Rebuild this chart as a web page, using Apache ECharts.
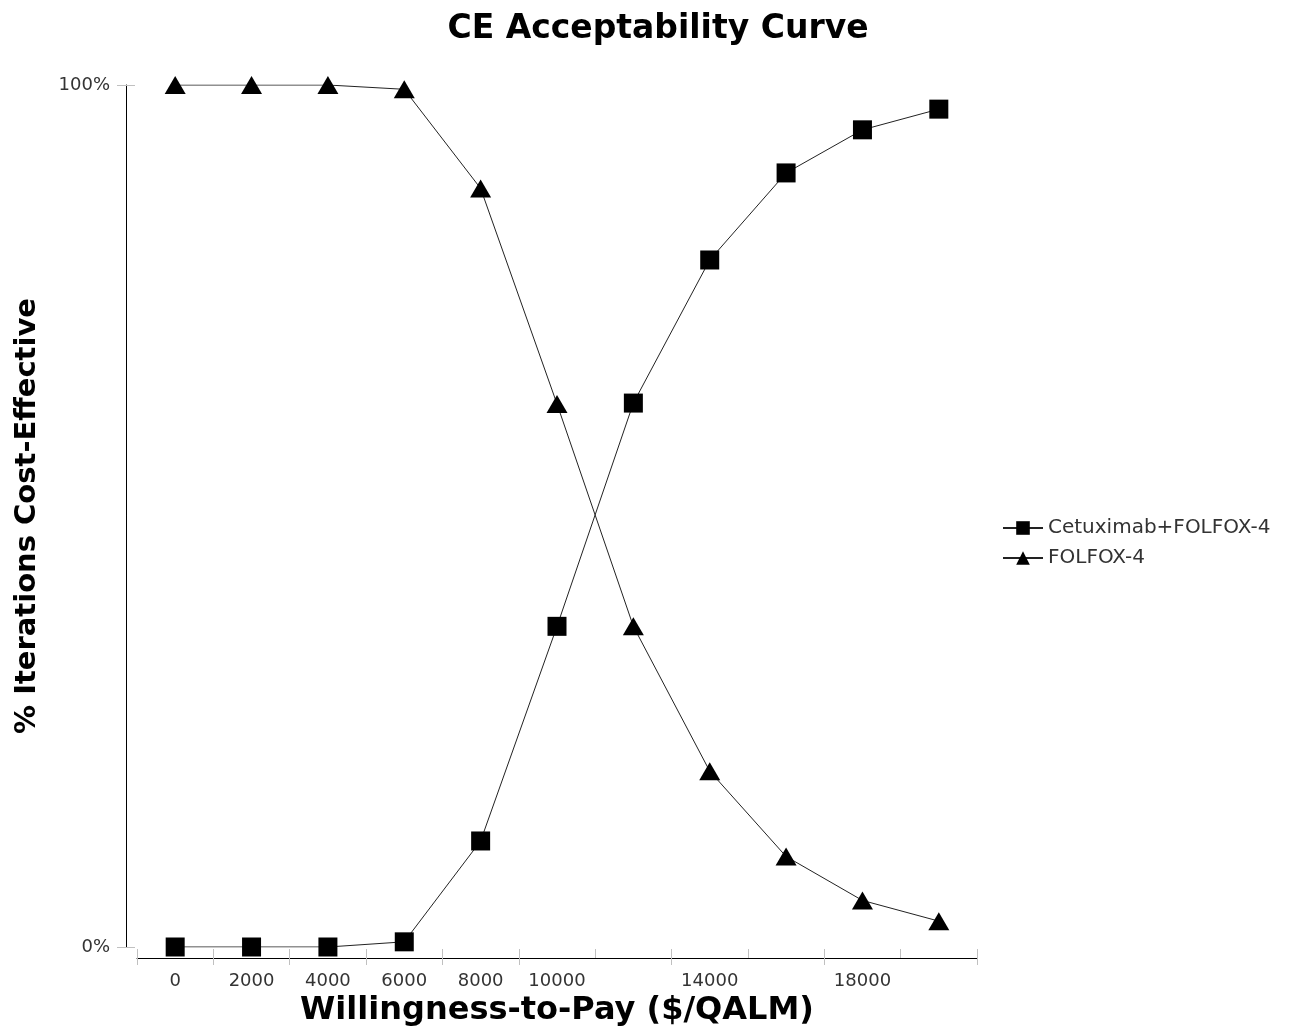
<!DOCTYPE html>
<html><head><meta charset="utf-8">
<script src="https://cdn.jsdelivr.net/npm/echarts@6/dist/echarts.min.js"></script>
<style>html,body{margin:0;padding:0;background:#fff}#c{width:1291px;height:1026px}</style>
</head><body><div id="c"></div>
<script>
const categories = ['0','2000','4000','6000','8000','10000','12000','14000','16000','18000','20000'];
const shownLabels = ['0','2000','4000','6000','8000','10000','14000','18000'];
const cetuximab = [0, 0, 0, 0.6, 12.3, 37.2, 63.1, 79.7, 89.8, 94.8, 97.2];
const folfox = [100, 100, 100, 99.5, 88.0, 63.0, 37.2, 20.4, 10.5, 5.4, 3.0];
const yTicks = [0, 100];

const chart = echarts.init(document.getElementById('c'));
const font = 'DejaVu Sans, Verdana, sans-serif';
const tickStyle = {color: '#c0c0c0', width: 1};
chart.setOption({
  animation: false,
  backgroundColor: '#fff',
  title: {text: 'CE Acceptability Curve', left: 653, top: 8, textAlign: 'center',
    textStyle: {fontFamily: font, fontSize: 33, fontWeight: 'bold', color: '#000'}},
  legend: {orient: 'vertical', left: 997, top: 513, itemWidth: 40, itemHeight: 17, itemGap: 10,
    textStyle: {fontFamily: font, fontSize: 20, color: '#333'},
    data: ['Cetuximab+FOLFOX-4', 'FOLFOX-4']},
  grid: {left: 137, top: 85, width: 840, height: 862, outerBoundsMode: 'none', containLabel: false},
  xAxis: [{
    type: 'category', data: categories, boundaryGap: true, offset: 11,
    name: 'Willingness-to-Pay ($/QALM)', nameLocation: 'middle', nameGap: 35,
    nameTextStyle: {fontFamily: font, fontSize: 32, fontWeight: 'bold', color: '#000'},
    axisLine: {onZero: false, lineStyle: {color: '#000', width: 1}},
    axisTick: {show: true, length: 7, lineStyle: tickStyle, alignWithLabel: false},
    axisLabel: {fontFamily: font, fontSize: 18, color: '#333', margin: 14,
      interval: (i, v) => shownLabels.includes(v)},
    splitLine: {show: false}
  }, {
    type: 'category', data: categories, boundaryGap: true, position: 'bottom', offset: 11,
    axisLine: {show: false, onZero: false}, axisTick: {show: true, inside: true, length: 9, lineStyle: tickStyle},
    axisLabel: {show: false}, splitLine: {show: false}
  }],
  yAxis: [{
    type: 'value', min: 0, max: 100, interval: 100, offset: 11,
    name: '% Iterations Cost-Effective', nameLocation: 'middle', nameGap: 84, nameRotate: 90,
    nameTextStyle: {fontFamily: font, fontSize: 29, fontWeight: 'bold', color: '#000'},
    axisLine: {show: true, onZero: false, lineStyle: {color: '#000', width: 1}},
    axisTick: {show: true, length: 9, lineStyle: tickStyle},
    axisLabel: {fontFamily: font, fontSize: 18, color: '#333', margin: 16,
      formatter: v => yTicks.includes(v) ? v + '%' : ''},
    splitLine: {show: false}
  }, {
    type: 'value', min: 0, max: 100, interval: 100, offset: 11, position: 'left',
    axisLine: {show: false, onZero: false}, axisTick: {show: true, inside: true, length: 9, lineStyle: tickStyle},
    axisLabel: {show: false}, splitLine: {show: false}
  }],
  series: [{
    name: 'Cetuximab+FOLFOX-4', type: 'line', data: cetuximab,
    symbol: 'rect', symbolSize: 19, itemStyle: {color: '#000'},
    lineStyle: {color: '#222', width: 1}
  }, {
    name: 'FOLFOX-4', type: 'line', data: folfox,
    symbol: 'triangle', symbolSize: [21, 18], itemStyle: {color: '#000'},
    lineStyle: {color: '#222', width: 1}
  }]
});
</script></body></html>
